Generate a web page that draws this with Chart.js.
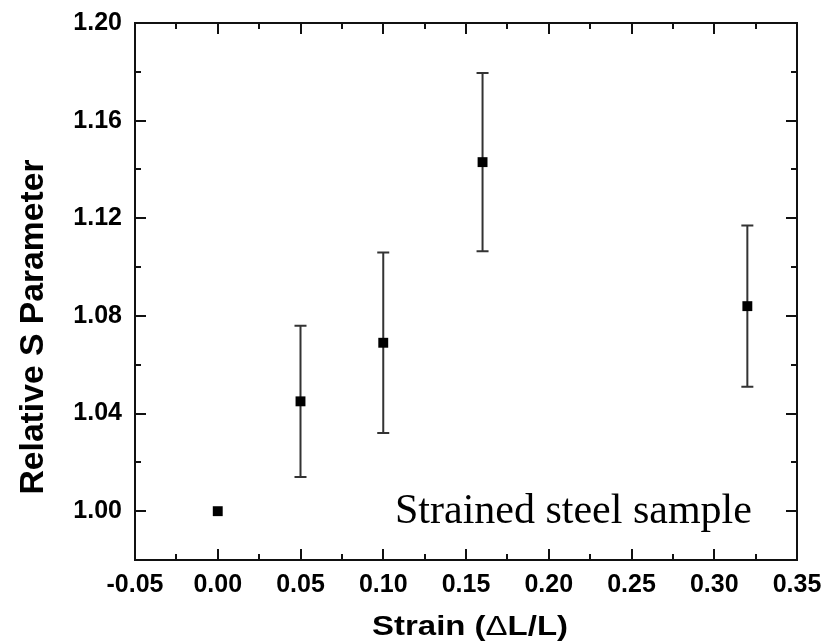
<!DOCTYPE html>
<html>
<head>
<meta charset="utf-8">
<script src="https://cdn.jsdelivr.net/npm/chart.js@4.4.0/dist/chart.umd.min.js"></script>
<style>
  html, body { margin: 0; padding: 0; background: #fff; }
  #wrap { width: 838px; height: 642px; }
</style>
</head>
<body>
<div id="wrap"><canvas id="chart" width="838" height="642"></canvas></div>
<script>
// Values
const strain = [0.00, 0.05, 0.10, 0.16, 0.32];
const sParam = [1.000, 1.045, 1.069, 1.143, 1.084];
const sErr = [0, 0.031, 0.037, 0.0365, 0.033];

const xTicks = [-0.05, 0.00, 0.05, 0.10, 0.15, 0.20, 0.25, 0.30, 0.35];
const yTicks = [1.00, 1.04, 1.08, 1.12, 1.16, 1.20];
const yMin = 0.98;

const sans = '"Liberation Sans", Arial, sans-serif';
const serif = '"Liberation Serif", "Times New Roman", serif';

// minor ticks sit halfway between the major ones
function midpoints(ticks) {
    const out = [];
    for (let i = 0; i < ticks.length - 1; i++) out.push((ticks[i] + ticks[i + 1]) / 2);
    return out;
}
const xMinor = midpoints(xTicks);
const yMinor = midpoints(yTicks);

// error bars under the markers
const errorBars = {
    id: 'errorBars',
    beforeDatasetsDraw(chart) {
        const { ctx, scales: { x, y } } = chart;
        ctx.save();
        ctx.strokeStyle = '#333';
        ctx.lineWidth = 2;
        strain.forEach((s, i) => {
            if (!sErr[i]) return;
            const px = x.getPixelForValue(s);
            const top = y.getPixelForValue(sParam[i] + sErr[i]);
            const bot = y.getPixelForValue(sParam[i] - sErr[i]);
            ctx.beginPath();
            ctx.moveTo(px, top); ctx.lineTo(px, bot);
            ctx.moveTo(px - 6, top); ctx.lineTo(px + 6, top);
            ctx.moveTo(px - 6, bot); ctx.lineTo(px + 6, bot);
            ctx.stroke();
        });
        ctx.restore();
    }
};

// box with inward ticks on all four sides, axis titles, note
const frame = {
    id: 'frame',
    afterDraw(chart) {
        const { ctx, chartArea: a, scales: { x, y } } = chart;
        ctx.save();
        ctx.strokeStyle = '#111';
        ctx.lineWidth = 2;
        ctx.strokeRect(a.left, a.top, a.right - a.left, a.bottom - a.top);

        ctx.beginPath();
        const xTick = (v, len) => {
            const px = Math.round(x.getPixelForValue(v));
            ctx.moveTo(px, a.bottom); ctx.lineTo(px, a.bottom - len);
            ctx.moveTo(px, a.top); ctx.lineTo(px, a.top + len);
        };
        const yTick = (v, len) => {
            const py = Math.round(y.getPixelForValue(v));
            ctx.moveTo(a.left, py); ctx.lineTo(a.left + len, py);
            ctx.moveTo(a.right, py); ctx.lineTo(a.right - len, py);
        };
        xTicks.forEach(v => xTick(v, 11));
        xMinor.forEach(v => xTick(v, 6));
        yTicks.forEach(v => yTick(v, 11));
        yMinor.forEach(v => yTick(v, 6));
        ctx.stroke();

        ctx.fillStyle = '#000';
        ctx.textBaseline = 'alphabetic';
        ctx.textAlign = 'left';

        // x title: bold text with a thin delta, stretched a little like the original
        const bold = 'bold 28px ' + sans, thin = '28px ' + sans;
        const parts = [['Strain (', bold], ['\u0394', thin], ['L/L)', bold]];
        let w = 0;
        parts.forEach(p => { ctx.font = p[1]; w += ctx.measureText(p[0]).width; });
        ctx.save();
        ctx.translate(470, 635);
        ctx.scale(196 / w, 1);
        let cx = -w / 2;
        parts.forEach(p => {
            ctx.font = p[1];
            ctx.fillText(p[0], cx, 0);
            cx += ctx.measureText(p[0]).width;
        });
        ctx.restore();

        // y title
        ctx.font = 'bold 33px ' + sans;
        ctx.textAlign = 'center';
        const label = 'Relative S Parameter';
        w = ctx.measureText(label).width;
        ctx.save();
        ctx.translate(43, 327);
        ctx.rotate(-Math.PI / 2);
        ctx.scale(335 / w, 1);
        ctx.fillText(label, 0, 0);
        ctx.restore();

        // note
        ctx.font = '42px ' + serif;
        ctx.textAlign = 'left';
        ctx.fillText('Strained steel sample', 395, 523);
        ctx.restore();
    }
};

new Chart(document.getElementById('chart'), {
    type: 'scatter',
    data: {
        datasets: [{
            label: 'S parameter',
            data: strain.map((s, i) => ({ x: s, y: sParam[i] })),
            pointStyle: 'rect',
            pointRadius: 7,
            pointHoverRadius: 7,
            backgroundColor: '#000',
            borderWidth: 0,
            showLine: false
        }]
    },
    options: {
        responsive: false,
        animation: false,
        events: [],
        layout: { padding: { left: 0, right: 41, top: 23, bottom: 0 } },
        plugins: { legend: { display: false }, tooltip: { enabled: false } },
        scales: {
            x: {
                type: 'linear',
                min: xTicks[0],
                max: xTicks[xTicks.length - 1],
                afterBuildTicks: s => { s.ticks = xTicks.map(v => ({ value: v })); },
                afterFit: s => { s.height = 82; s.paddingLeft = 0; s.paddingRight = 0; },
                grid: { display: false, drawTicks: false },
                border: { display: false },
                ticks: {
                    autoSkip: false,
                    maxRotation: 0,
                    padding: 10,
                    color: '#000',
                    font: { family: sans, size: 25, weight: 'bold' },
                    callback: v => v.toFixed(2)
                }
            },
            y: {
                type: 'linear',
                min: yMin,
                max: yTicks[yTicks.length - 1],
                afterBuildTicks: s => { s.ticks = yTicks.map(v => ({ value: v })); },
                afterFit: s => { s.width = 135; s.paddingTop = 0; s.paddingBottom = 0; },
                grid: { display: false, drawTicks: false },
                border: { display: false },
                ticks: {
                    autoSkip: false,
                    padding: 13,
                    color: '#000',
                    font: { family: sans, size: 25, weight: 'bold' },
                    callback: v => v.toFixed(2)
                }
            }
        }
    },
    plugins: [errorBars, frame]
});
</script>
</body>
</html>
